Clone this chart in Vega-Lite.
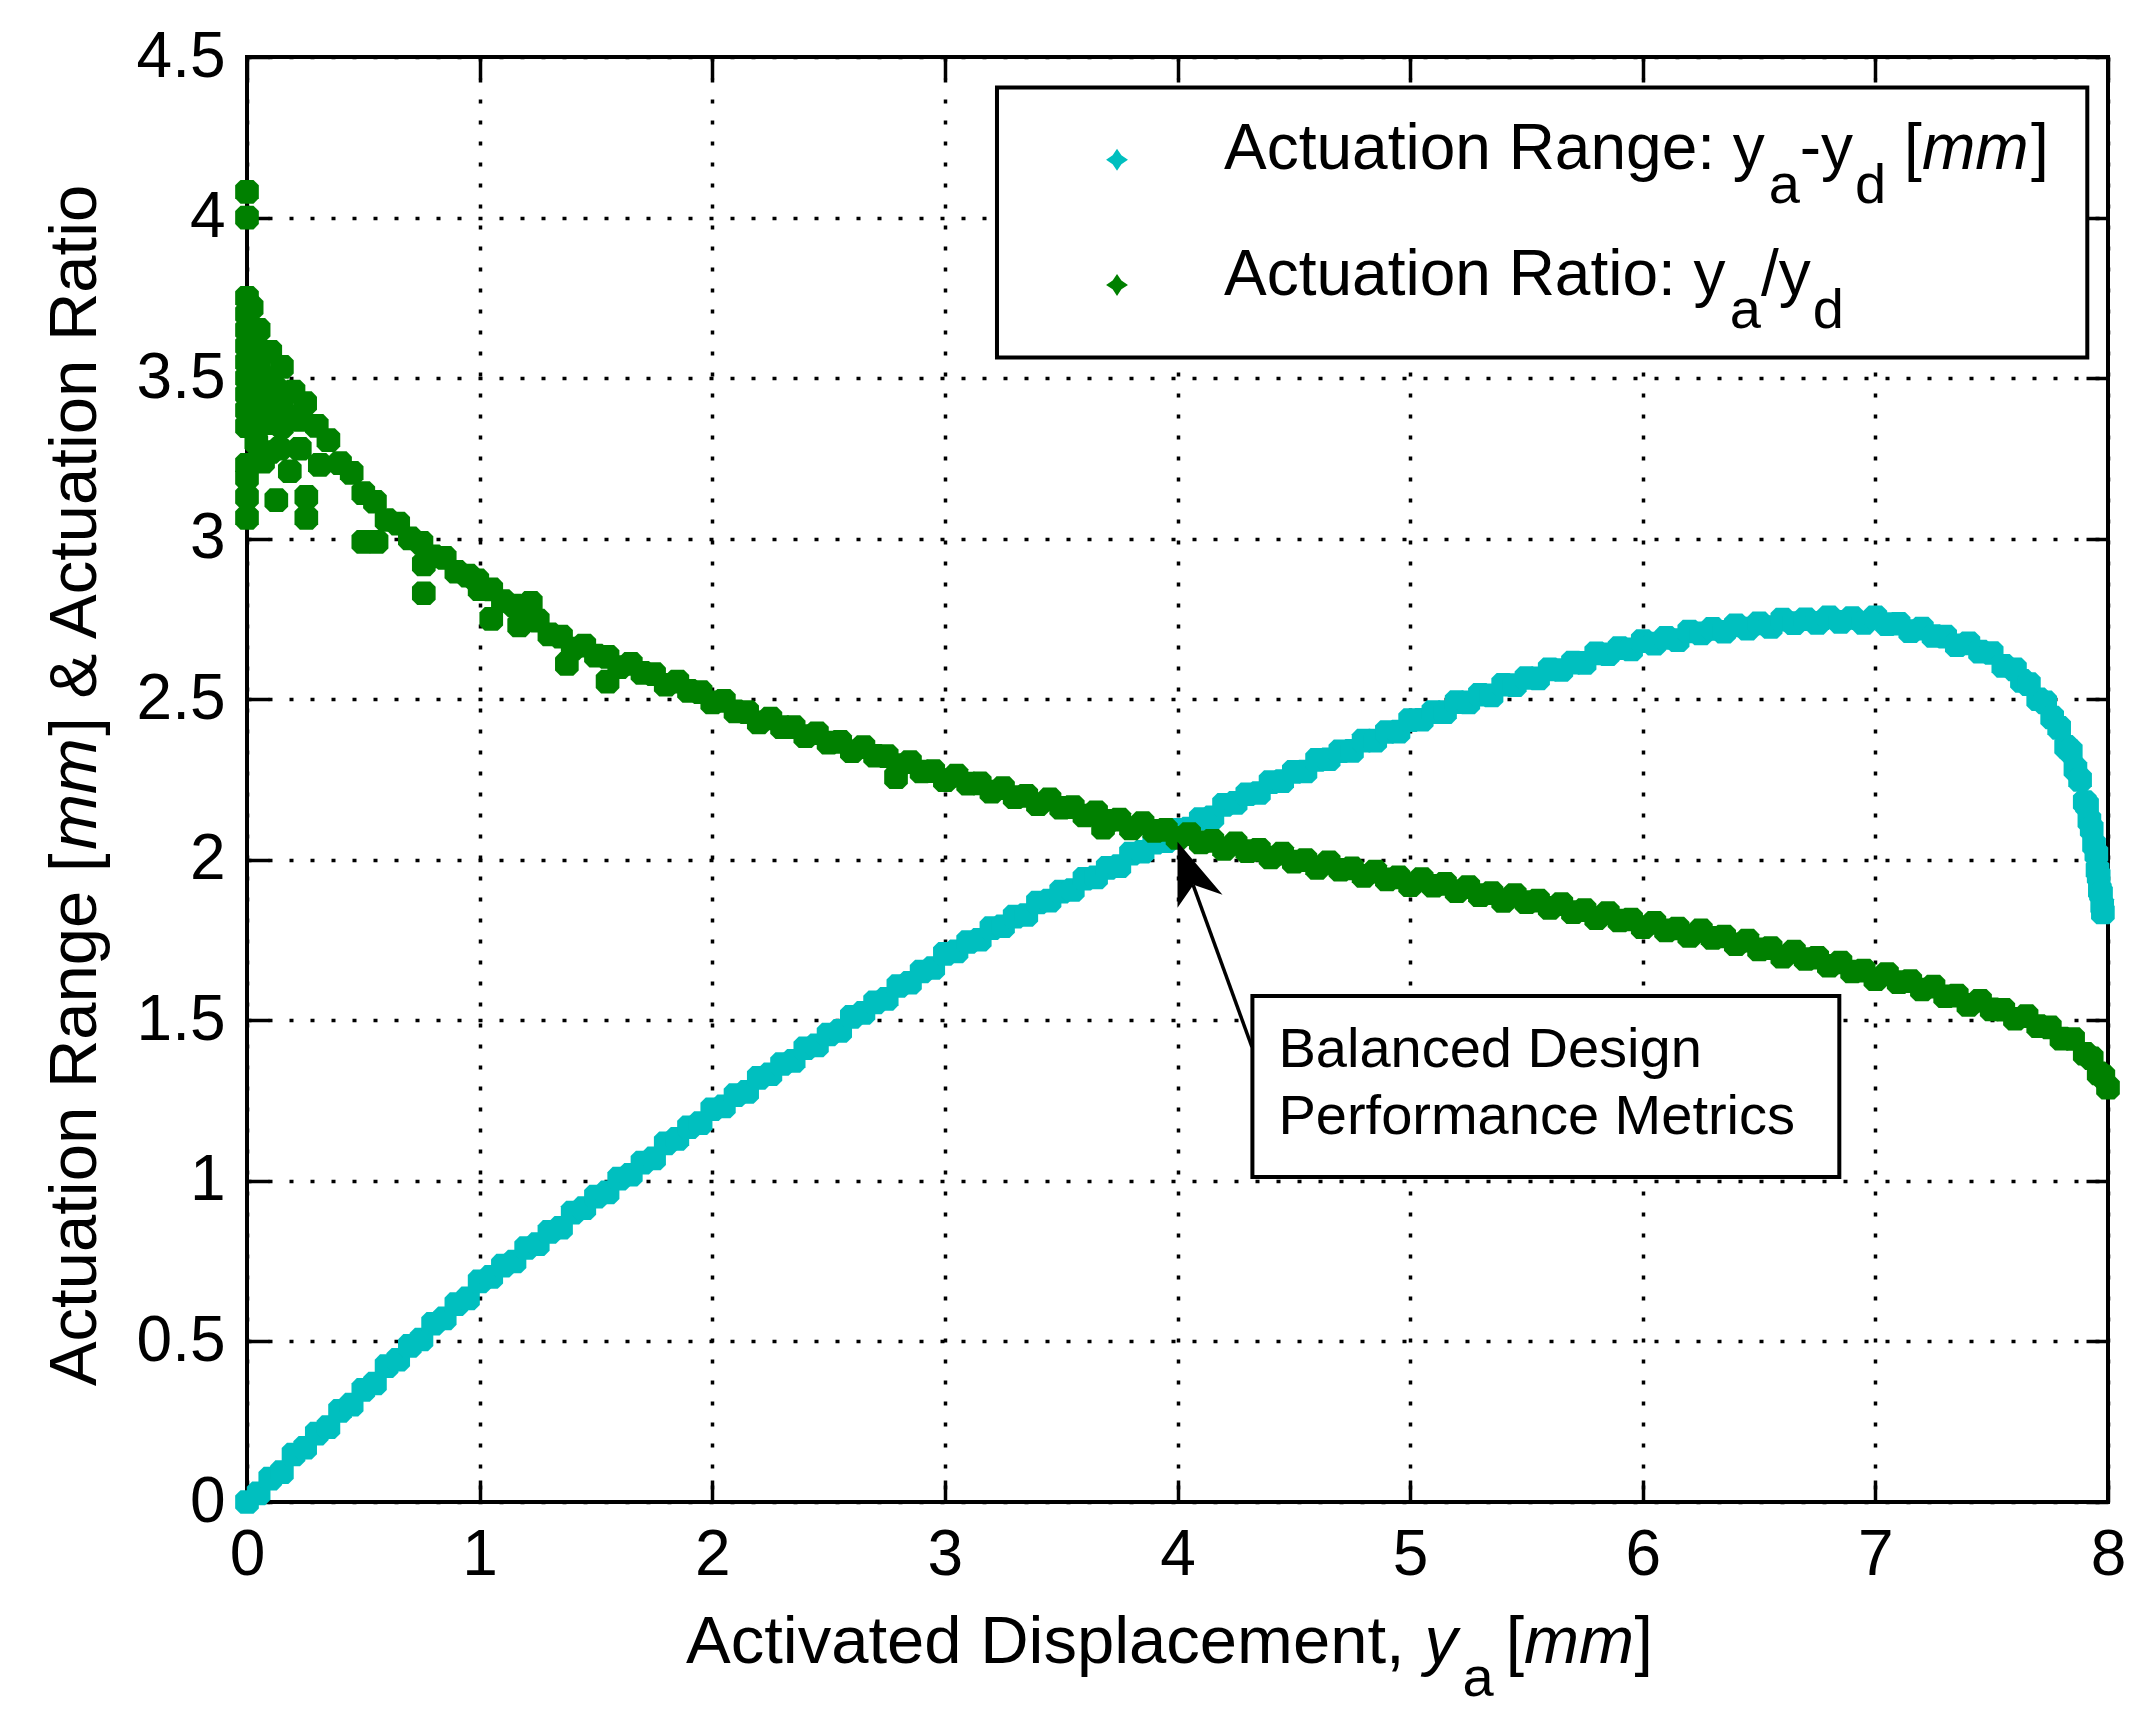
{
"$schema":"https://vega.github.io/schema/vega-lite/v6.json",
"width":1861,"height":1445,
"autosize":{"type":"none"},
"padding":{"left":247,"top":57,"right":33,"bottom":220},
"background":"white",
"data":{"values":[{}]},
"config":{
 "view":{"stroke":"black","strokeWidth":4},
 "axis":{"domain":false,"tickColor":"black","tickWidth":3.5,"tickSize":-22,"labelFont":"Liberation Sans","labelFontSize":64,"labelColor":"black","gridColor":"black","gridDash":[4,17],"gridWidth":3.5,"gridOpacity":1,"labelFlush":false,"labelOverlap":false,"labelBound":false},
 "text":{"font":"Liberation Sans","color":"black","align":"left","baseline":"alphabetic"}
},
"datasets":{
"range":[
{"x":0,"v":0},{"x":0.05,"v":0.027},{"x":0.1,"v":0.073},{"x":0.15,"v":0.093},{"x":0.2,"v":0.148},{"x":0.25,"v":0.169},{"x":0.3,"v":0.213},{"x":0.35,"v":0.233},{"x":0.4,"v":0.284},{"x":0.45,"v":0.303},
{"x":0.5,"v":0.349},{"x":0.55,"v":0.369},{"x":0.6,"v":0.423},{"x":0.65,"v":0.443},{"x":0.7,"v":0.486},{"x":0.75,"v":0.506},{"x":0.8,"v":0.555},{"x":0.85,"v":0.572},{"x":0.9,"v":0.616},{"x":0.95,"v":0.634},
{"x":1.0,"v":0.687},{"x":1.05,"v":0.701},{"x":1.1,"v":0.736},{"x":1.15,"v":0.749},{"x":1.2,"v":0.791},{"x":1.25,"v":0.803},{"x":1.3,"v":0.841},{"x":1.35,"v":0.854},{"x":1.4,"v":0.901},{"x":1.45,"v":0.915},
{"x":1.5,"v":0.951},{"x":1.55,"v":0.964},{"x":1.6,"v":1.007},{"x":1.65,"v":1.019},{"x":1.7,"v":1.057},{"x":1.75,"v":1.07},{"x":1.8,"v":1.117},{"x":1.85,"v":1.131},{"x":1.9,"v":1.167},{"x":1.95,"v":1.18},
{"x":2.0,"v":1.223},{"x":2.05,"v":1.232},{"x":2.1,"v":1.267},{"x":2.15,"v":1.277},{"x":2.2,"v":1.321},{"x":2.25,"v":1.332},{"x":2.3,"v":1.364},{"x":2.35,"v":1.374},{"x":2.4,"v":1.413},{"x":2.45,"v":1.422},
{"x":2.5,"v":1.456},{"x":2.55,"v":1.467},{"x":2.6,"v":1.511},{"x":2.65,"v":1.523},{"x":2.7,"v":1.556},{"x":2.75,"v":1.567},{"x":2.8,"v":1.607},{"x":2.85,"v":1.617},{"x":2.9,"v":1.652},{"x":2.95,"v":1.663},
{"x":3.0,"v":1.707},{"x":3.05,"v":1.715},{"x":3.1,"v":1.744},{"x":3.15,"v":1.751},{"x":3.2,"v":1.787},{"x":3.25,"v":1.793},{"x":3.3,"v":1.823},{"x":3.35,"v":1.828},{"x":3.4,"v":1.867},{"x":3.45,"v":1.873},
{"x":3.5,"v":1.901},{"x":3.55,"v":1.906},{"x":3.6,"v":1.941},{"x":3.65,"v":1.945},{"x":3.7,"v":1.975},{"x":3.75,"v":1.98},{"x":3.8,"v":2.019},{"x":3.85,"v":2.025},{"x":3.9,"v":2.053},{"x":3.95,"v":2.058},
{"x":4.0,"v":2.093},{"x":4.05,"v":2.097},{"x":4.1,"v":2.127},{"x":4.15,"v":2.132},{"x":4.2,"v":2.171},{"x":4.25,"v":2.177},{"x":4.3,"v":2.204},{"x":4.35,"v":2.208},{"x":4.4,"v":2.242},{"x":4.45,"v":2.245},
{"x":4.5,"v":2.274},{"x":4.55,"v":2.275},{"x":4.6,"v":2.311},{"x":4.65,"v":2.313},{"x":4.7,"v":2.338},{"x":4.75,"v":2.339},{"x":4.8,"v":2.371},{"x":4.85,"v":2.371},{"x":4.9,"v":2.398},{"x":4.95,"v":2.399},
{"x":5.0,"v":2.435},{"x":5.05,"v":2.436},{"x":5.1,"v":2.46},{"x":5.15,"v":2.46},{"x":5.2,"v":2.491},{"x":5.25,"v":2.49},{"x":5.3,"v":2.514},{"x":5.35,"v":2.512},{"x":5.4,"v":2.545},{"x":5.45,"v":2.544},
{"x":5.5,"v":2.566},{"x":5.55,"v":2.565},{"x":5.6,"v":2.593},{"x":5.65,"v":2.591},{"x":5.7,"v":2.614},{"x":5.75,"v":2.613},{"x":5.8,"v":2.643},{"x":5.85,"v":2.64},{"x":5.9,"v":2.659},{"x":5.95,"v":2.655},
{"x":6.0,"v":2.681},{"x":6.05,"v":2.673},{"x":6.1,"v":2.691},{"x":6.15,"v":2.684},{"x":6.2,"v":2.711},{"x":6.25,"v":2.705},{"x":6.3,"v":2.719},{"x":6.35,"v":2.71},{"x":6.4,"v":2.73},{"x":6.45,"v":2.72},
{"x":6.5,"v":2.736},{"x":6.55,"v":2.725},{"x":6.6,"v":2.748},{"x":6.65,"v":2.737},{"x":6.7,"v":2.749},{"x":6.75,"v":2.738},{"x":6.8,"v":2.755},{"x":6.85,"v":2.741},{"x":6.9,"v":2.753},{"x":6.95,"v":2.738},
{"x":7.0,"v":2.755},{"x":7.05,"v":2.734},{"x":7.1,"v":2.735},{"x":7.15,"v":2.712},{"x":7.2,"v":2.72},{"x":7.25,"v":2.697},{"x":7.3,"v":2.695},{"x":7.35,"v":2.668},{"x":7.4,"v":2.674},{"x":7.45,"v":2.648},
{"x":7.5,"v":2.644},{"x":7.55,"v":2.604},{"x":7.6,"v":2.593},{"x":7.63,"v":2.557},{"x":7.66,"v":2.547},{"x":7.7,"v":2.5},{"x":7.73,"v":2.49},{"x":7.76,"v":2.443},{"x":7.79,"v":2.411},{"x":7.82,"v":2.352},
{"x":7.84,"v":2.338},{"x":7.86,"v":2.283},{"x":7.88,"v":2.249},{"x":7.9,"v":2.18},{"x":7.91,"v":2.17},{"x":7.92,"v":2.122},{"x":7.93,"v":2.096},{"x":7.94,"v":2.047},{"x":7.95,"v":2.018},{"x":7.955,"v":1.968},
{"x":7.96,"v":1.949},{"x":7.965,"v":1.905},{"x":7.97,"v":1.895},{"x":7.975,"v":1.857},{"x":7.978,"v":1.836}
],
"ratio":[
{"x":0,"v":4.08},{"x":0,"v":4.0},{"x":0,"v":3.75},{"x":0,"v":3.7},{"x":0,"v":3.65},{"x":0,"v":3.6},{"x":0,"v":3.55},{"x":0,"v":3.5},{"x":0,"v":3.45},{"x":0,"v":3.4},{"x":0,"v":3.35},
{"x":0,"v":3.23},{"x":0,"v":3.19},{"x":0,"v":3.13},{"x":0,"v":3.065},
{"x":0.02,"v":3.72},{"x":0.02,"v":3.62},{"x":0.02,"v":3.52},{"x":0.02,"v":3.42},{"x":0.02,"v":3.36},
{"x":0.05,"v":3.55},{"x":0.05,"v":3.46},{"x":0.05,"v":3.38},{"x":0.08,"v":3.5},{"x":0.08,"v":3.4},{"x":0.1,"v":3.36},
{"x":0.12,"v":3.47},{"x":0.12,"v":3.37},{"x":0.15,"v":3.42},{"x":0.15,"v":3.35},{"x":0.19,"v":3.38},{"x":0.23,"v":3.37},
{"x":0.069,"v":3.24},{"x":0.04,"v":3.3},{"x":0.1,"v":3.27},{"x":0.14,"v":3.28},{"x":0.227,"v":3.28},{"x":0.184,"v":3.21},{"x":0.126,"v":3.12},{"x":0.255,"v":3.13},{"x":0.255,"v":3.065},{"x":0.313,"v":3.23},
{"x":0.5,"v":2.99},{"x":0.557,"v":2.99},{"x":0.76,"v":2.92},{"x":0.76,"v":2.83},{"x":0.99,"v":2.87},{"x":1.05,"v":2.75},{"x":1.17,"v":2.73},{"x":1.22,"v":2.8},{"x":1.375,"v":2.61},{"x":1.55,"v":2.555},{"x":2.79,"v":2.257},{"x":3.68,"v":2.1},
{"x":0.05,"v":3.65},{"x":0.1,"v":3.582},{"x":0.15,"v":3.535},{"x":0.2,"v":3.458},{"x":0.25,"v":3.422},{"x":0.3,"v":3.351},{"x":0.35,"v":3.307},{"x":0.4,"v":3.235},{"x":0.45,"v":3.205},
{"x":0.5,"v":3.142},{"x":0.55,"v":3.115},{"x":0.6,"v":3.058},{"x":0.65,"v":3.047},{"x":0.7,"v":3.001},{"x":0.75,"v":2.987},{"x":0.8,"v":2.945},{"x":0.85,"v":2.94},{"x":0.9,"v":2.897},{"x":0.95,"v":2.885},
{"x":1.0,"v":2.843},{"x":1.05,"v":2.842},{"x":1.1,"v":2.806},{"x":1.15,"v":2.792},{"x":1.2,"v":2.75},{"x":1.25,"v":2.745},{"x":1.3,"v":2.702},{"x":1.35,"v":2.695},{"x":1.4,"v":2.658},{"x":1.45,"v":2.667},
{"x":1.5,"v":2.636},{"x":1.55,"v":2.632},{"x":1.6,"v":2.6},{"x":1.65,"v":2.61},{"x":1.7,"v":2.582},{"x":1.75,"v":2.578},{"x":1.8,"v":2.545},{"x":1.85,"v":2.555},{"x":1.9,"v":2.526},{"x":1.95,"v":2.522},
{"x":2.0,"v":2.49},{"x":2.05,"v":2.495},{"x":2.1,"v":2.462},{"x":2.15,"v":2.46},{"x":2.2,"v":2.428},{"x":2.25,"v":2.44},{"x":2.3,"v":2.413},{"x":2.35,"v":2.413},{"x":2.4,"v":2.385},{"x":2.45,"v":2.394},
{"x":2.5,"v":2.365},{"x":2.55,"v":2.367},{"x":2.6,"v":2.338},{"x":2.65,"v":2.351},{"x":2.7,"v":2.324},{"x":2.75,"v":2.323},{"x":2.8,"v":2.295},{"x":2.85,"v":2.304},{"x":2.9,"v":2.275},{"x":2.95,"v":2.276},
{"x":3.0,"v":2.248},{"x":3.05,"v":2.262},{"x":3.1,"v":2.237},{"x":3.15,"v":2.238},{"x":3.2,"v":2.212},{"x":3.25,"v":2.223},{"x":3.3,"v":2.195},{"x":3.35,"v":2.199},{"x":3.4,"v":2.173},{"x":3.45,"v":2.188},
{"x":3.5,"v":2.162},{"x":3.55,"v":2.164},{"x":3.6,"v":2.138},{"x":3.65,"v":2.148},{"x":3.7,"v":2.121},{"x":3.75,"v":2.125},{"x":3.8,"v":2.098},{"x":3.85,"v":2.114},{"x":3.9,"v":2.09},{"x":3.95,"v":2.093},
{"x":4.0,"v":2.068},{"x":4.05,"v":2.08},{"x":4.1,"v":2.054},{"x":4.15,"v":2.059},{"x":4.2,"v":2.034},{"x":4.25,"v":2.051},{"x":4.3,"v":2.027},{"x":4.35,"v":2.031},{"x":4.4,"v":2.007},{"x":4.45,"v":2.019},
{"x":4.5,"v":1.994},{"x":4.55,"v":1.999},{"x":4.6,"v":1.975},{"x":4.65,"v":1.992},{"x":4.7,"v":1.969},{"x":4.75,"v":1.973},{"x":4.8,"v":1.95},{"x":4.85,"v":1.963},{"x":4.9,"v":1.939},{"x":4.95,"v":1.945},
{"x":5.0,"v":1.921},{"x":5.05,"v":1.94},{"x":5.1,"v":1.919},{"x":5.15,"v":1.925},{"x":5.2,"v":1.902},{"x":5.25,"v":1.915},{"x":5.3,"v":1.89},{"x":5.35,"v":1.896},{"x":5.4,"v":1.872},{"x":5.45,"v":1.89},
{"x":5.5,"v":1.868},{"x":5.55,"v":1.873},{"x":5.6,"v":1.85},{"x":5.65,"v":1.862},{"x":5.7,"v":1.837},{"x":5.75,"v":1.843},{"x":5.8,"v":1.818},{"x":5.85,"v":1.834},{"x":5.9,"v":1.811},{"x":5.95,"v":1.814},
{"x":6.0,"v":1.79},{"x":6.05,"v":1.804},{"x":6.1,"v":1.78},{"x":6.15,"v":1.786},{"x":6.2,"v":1.763},{"x":6.25,"v":1.78},{"x":6.3,"v":1.757},{"x":6.35,"v":1.761},{"x":6.4,"v":1.737},{"x":6.45,"v":1.748},
{"x":6.5,"v":1.721},{"x":6.55,"v":1.725},{"x":6.6,"v":1.698},{"x":6.65,"v":1.714},{"x":6.7,"v":1.691},{"x":6.75,"v":1.695},{"x":6.8,"v":1.67},{"x":6.85,"v":1.68},{"x":6.9,"v":1.652},{"x":6.95,"v":1.655},
{"x":7.0,"v":1.628},{"x":7.05,"v":1.644},{"x":7.1,"v":1.619},{"x":7.15,"v":1.622},{"x":7.2,"v":1.596},{"x":7.25,"v":1.605},{"x":7.3,"v":1.575},{"x":7.35,"v":1.577},{"x":7.4,"v":1.548},{"x":7.45,"v":1.561},
{"x":7.5,"v":1.534},{"x":7.55,"v":1.533},{"x":7.6,"v":1.505},{"x":7.65,"v":1.513},{"x":7.7,"v":1.482},{"x":7.75,"v":1.478},{"x":7.8,"v":1.443},{"x":7.85,"v":1.442},{"x":7.9,"v":1.396},{"x":7.93,"v":1.382},
{"x":7.96,"v":1.335},{"x":7.98,"v":1.325},{"x":8.0,"v":1.29}
]
},
"layer":[
{"data":{"name":"range"},
 "mark":{"type":"point","filled":true,"opacity":1,"color":"#00BFBF","size":560,"shape":"M-1,-0.55L-0.55,-1L0.55,-1L1,-0.55L1,0.55L0.55,1L-0.55,1L-1,0.55Z"},
 "encoding":{
  "x":{"field":"x","type":"quantitative","scale":{"domain":[0,8],"nice":false,"zero":false},
       "axis":{"orient":"bottom","values":[0,1,2,3,4,5,6,7,8],"grid":true,"labelPadding":43,"title":null}},
  "y":{"field":"v","type":"quantitative","scale":{"domain":[0,4.5],"nice":false,"zero":false},
       "axis":{"orient":"left","values":[0,0.5,1,1.5,2,2.5,3,3.5,4,4.5],"format":"~g","grid":true,"labelPadding":44,"title":null}}
 }},
{"data":{"name":"ratio"},
 "mark":{"type":"point","filled":true,"opacity":1,"color":"#008000","size":560,"shape":"M-1,-0.55L-0.55,-1L0.55,-1L1,-0.55L1,0.55L0.55,1L-0.55,1L-1,0.55Z"},
 "encoding":{
  "x":{"field":"x","type":"quantitative","axis":null},
  "y":{"field":"v","type":"quantitative","axis":null}
 }},
{"mark":{"type":"rect","fill":"white","stroke":"black","strokeWidth":4},
 "encoding":{
  "x":{"datum":3.224,"type":"quantitative","axis":{"orient":"top","values":[0,1,2,3,4,5,6,7,8],"labels":false,"grid":false,"title":null}},
  "x2":{"datum":7.911},
  "y":{"datum":4.405,"type":"quantitative","axis":{"orient":"right","values":[0,0.5,1,1.5,2,2.5,3,3.5,4,4.5],"labels":false,"grid":false,"title":null}},
  "y2":{"datum":3.564}
 }},
{"mark":{"type":"point","filled":true,"opacity":1,"color":"#00BFBF","size":480,"shape":"M0,-1L0.4,-0.4L1,0L0.4,0.4L0,1L-0.4,0.4L-1,0L-0.4,-0.4Z"},
 "encoding":{"x":{"datum":3.74,"type":"quantitative","axis":null},"y":{"datum":4.18,"type":"quantitative","axis":null}}},
{"mark":{"type":"point","filled":true,"opacity":1,"color":"#008000","size":480,"shape":"M0,-1L0.4,-0.4L1,0L0.4,0.4L0,1L-0.4,0.4L-1,0L-0.4,-0.4Z"},
 "encoding":{"x":{"datum":3.74,"type":"quantitative","axis":null},"y":{"datum":3.79,"type":"quantitative","axis":null}}},
{"mark":{"type":"text","fontSize":64,"text":"Actuation Range: y"},
 "encoding":{"x":{"datum":4.2,"type":"quantitative","axis":null},"y":{"datum":4.15,"type":"quantitative","axis":null}}},
{"mark":{"type":"text","fontSize":56,"text":"a"},
 "encoding":{"x":{"datum":6.542,"type":"quantitative","axis":null},"y":{"datum":4.044,"type":"quantitative","axis":null}}},
{"mark":{"type":"text","fontSize":64,"text":"-y"},
 "encoding":{"x":{"datum":6.675,"type":"quantitative","axis":null},"y":{"datum":4.15,"type":"quantitative","axis":null}}},
{"mark":{"type":"text","fontSize":56,"text":"d"},
 "encoding":{"x":{"datum":6.912,"type":"quantitative","axis":null},"y":{"datum":4.044,"type":"quantitative","axis":null}}},
{"mark":{"type":"text","fontSize":64,"text":"["},
 "encoding":{"x":{"datum":7.123,"type":"quantitative","axis":null},"y":{"datum":4.15,"type":"quantitative","axis":null}}},
{"mark":{"type":"text","fontSize":64,"fontStyle":"italic","text":"mm"},
 "encoding":{"x":{"datum":7.2,"type":"quantitative","axis":null},"y":{"datum":4.15,"type":"quantitative","axis":null}}},
{"mark":{"type":"text","fontSize":64,"text":"]"},
 "encoding":{"x":{"datum":7.669,"type":"quantitative","axis":null},"y":{"datum":4.15,"type":"quantitative","axis":null}}},
{"mark":{"type":"text","fontSize":64,"text":"Actuation Ratio: y"},
 "encoding":{"x":{"datum":4.2,"type":"quantitative","axis":null},"y":{"datum":3.76,"type":"quantitative","axis":null}}},
{"mark":{"type":"text","fontSize":56,"text":"a"},
 "encoding":{"x":{"datum":6.374,"type":"quantitative","axis":null},"y":{"datum":3.657,"type":"quantitative","axis":null}}},
{"mark":{"type":"text","fontSize":64,"text":"/y"},
 "encoding":{"x":{"datum":6.508,"type":"quantitative","axis":null},"y":{"datum":3.76,"type":"quantitative","axis":null}}},
{"mark":{"type":"text","fontSize":56,"text":"d"},
 "encoding":{"x":{"datum":6.731,"type":"quantitative","axis":null},"y":{"datum":3.657,"type":"quantitative","axis":null}}},
{"mark":{"type":"rect","fill":"white","stroke":"black","strokeWidth":4},
 "encoding":{"x":{"datum":4.322,"type":"quantitative","axis":null},"x2":{"datum":6.845},"y":{"datum":1.576,"type":"quantitative","axis":null},"y2":{"datum":1.012}}},
{"mark":{"type":"text","fontSize":56,"text":"Balanced Design"},
 "encoding":{"x":{"datum":4.434,"type":"quantitative","axis":null},"y":{"datum":1.355,"type":"quantitative","axis":null}}},
{"mark":{"type":"text","fontSize":56,"text":"Performance Metrics"},
 "encoding":{"x":{"datum":4.434,"type":"quantitative","axis":null},"y":{"datum":1.146,"type":"quantitative","axis":null}}},
{"mark":{"type":"rule","color":"black","strokeWidth":3.5},
 "encoding":{"x":{"datum":4.067,"type":"quantitative","axis":null},"y":{"datum":1.922,"type":"quantitative","axis":null},"x2":{"datum":4.32},"y2":{"datum":1.417}}},
{"mark":{"type":"point","filled":true,"opacity":1,"color":"black","size":400,"shape":"M0,0L0,6.6L1.6,4.3L4.5,5.3Z"},
 "encoding":{"x":{"datum":4.0,"type":"quantitative","axis":null},"y":{"datum":2.056,"type":"quantitative","axis":null}}},
{"mark":{"type":"text","fontSize":67,"text":"Activated Displacement,"},
 "encoding":{"x":{"datum":1.887,"type":"quantitative","axis":null},"y":{"datum":-0.502,"type":"quantitative","axis":null}}},
{"mark":{"type":"text","fontSize":66,"fontStyle":"italic","text":"y"},
 "encoding":{"x":{"datum":5.062,"type":"quantitative","axis":null},"y":{"datum":-0.502,"type":"quantitative","axis":null}}},
{"mark":{"type":"text","fontSize":56,"text":"a"},
 "encoding":{"x":{"datum":5.225,"type":"quantitative","axis":null},"y":{"datum":-0.605,"type":"quantitative","axis":null}}},
{"mark":{"type":"text","fontSize":66,"text":"["},
 "encoding":{"x":{"datum":5.411,"type":"quantitative","axis":null},"y":{"datum":-0.502,"type":"quantitative","axis":null}}},
{"mark":{"type":"text","fontSize":66,"fontStyle":"italic","text":"mm"},
 "encoding":{"x":{"datum":5.49,"type":"quantitative","axis":null},"y":{"datum":-0.502,"type":"quantitative","axis":null}}},
{"mark":{"type":"text","fontSize":66,"text":"]"},
 "encoding":{"x":{"datum":5.965,"type":"quantitative","axis":null},"y":{"datum":-0.502,"type":"quantitative","axis":null}}},
{"mark":{"type":"text","fontSize":67,"angle":270,"text":"Actuation Range ["},
 "encoding":{"x":{"datum":-0.649,"type":"quantitative","axis":null},"y":{"datum":0.361,"type":"quantitative","axis":null}}},
{"mark":{"type":"text","fontSize":67,"angle":270,"fontStyle":"italic","text":"mm"},
 "encoding":{"x":{"datum":-0.649,"type":"quantitative","axis":null},"y":{"datum":2.031,"type":"quantitative","axis":null}}},
{"mark":{"type":"text","fontSize":67,"angle":270,"text":"] & Actuation Ratio"},
 "encoding":{"x":{"datum":-0.649,"type":"quantitative","axis":null},"y":{"datum":2.386,"type":"quantitative","axis":null}}}
]
}
